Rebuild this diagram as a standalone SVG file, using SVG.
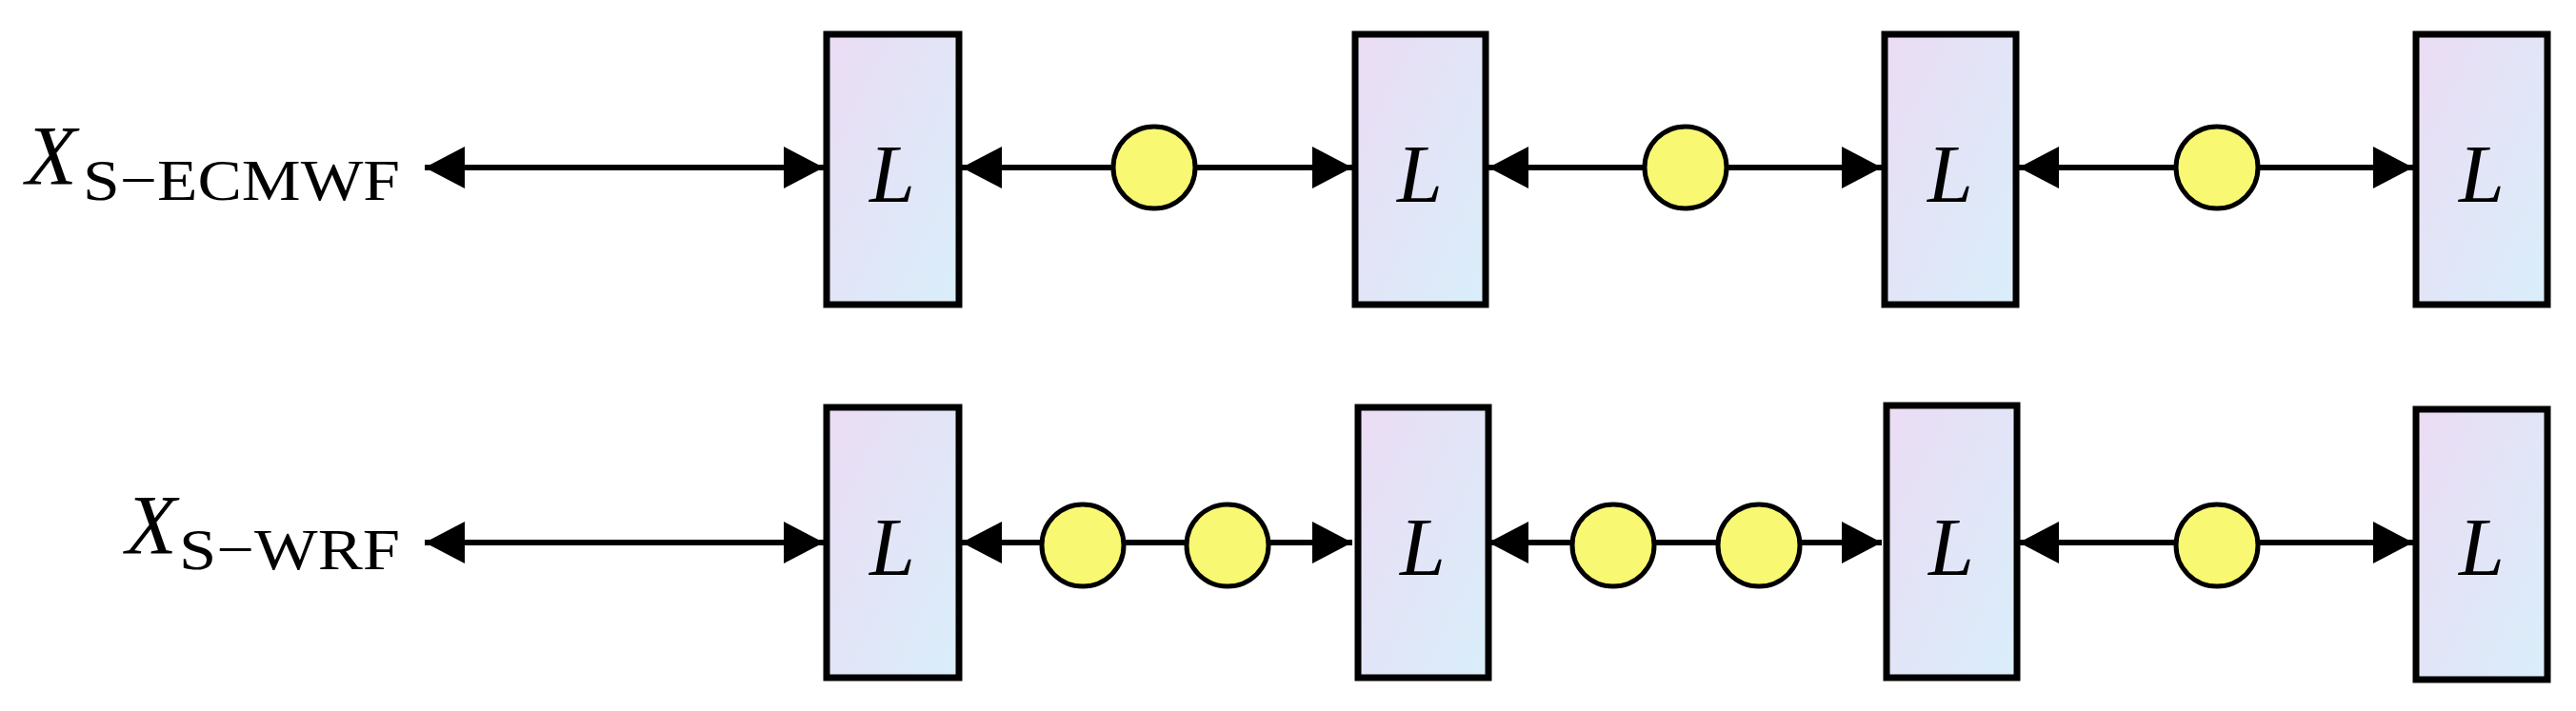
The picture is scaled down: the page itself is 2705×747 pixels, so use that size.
<svg xmlns="http://www.w3.org/2000/svg" width="2705" height="747" viewBox="0 0 2705 747">
<style>
.box{stroke:#000;stroke-width:7;fill:url(#g)}
.c{fill:#f8f872;stroke:#000;stroke-width:5}
.ln{stroke:#000;stroke-width:6;fill:none;marker-start:url(#a);marker-end:url(#a)}
.L{font-family:"Liberation Serif",serif;font-style:italic;font-size:86px;text-anchor:middle}
.X{font-family:"Liberation Serif",serif;font-style:italic;font-size:88px}
.s{font-family:"Liberation Serif",serif;font-size:62px}
</style>
<defs>
<linearGradient id="g" x1="0" y1="0" x2="1" y2="1"><stop offset="0" stop-color="#ebdcf4"/><stop offset="1" stop-color="#d9eefa"/></linearGradient>
<marker id="a" markerUnits="userSpaceOnUse" viewBox="0 0 42 44" refX="42" refY="22" markerWidth="42" markerHeight="44" orient="auto-start-reverse"><path d="M0,0L42,22L0,44Z" fill="#000"/></marker>
</defs>
<g id="labels">
<text class="X" x="27" y="193">X</text><text class="s" x="87" y="210" textLength="333" lengthAdjust="spacingAndGlyphs">S−ECMWF</text>
<text class="X" x="132" y="581">X</text><text class="s" x="188" y="598" textLength="232" lengthAdjust="spacingAndGlyphs">S−WRF</text>
</g>
<g id="connectors">
<line class="ln" x1="446" y1="176" x2="865" y2="176"/>
<line class="ln" x1="1010" y1="176" x2="1420" y2="176"/>
<line class="ln" x1="1563" y1="176" x2="1976" y2="176"/>
<line class="ln" x1="2120" y1="176" x2="2534" y2="176"/>
<line class="ln" x1="446" y1="570" x2="865" y2="570"/>
<line class="ln" x1="1010" y1="570" x2="1420" y2="570"/>
<line class="ln" x1="1563" y1="570" x2="1976" y2="570"/>
<line class="ln" x1="2120" y1="570" x2="2534" y2="570"/>
</g>
<g id="r1b1"><rect class="box" x="868" y="36" width="139" height="284"/><text class="L" x="937" y="212">L</text></g>
<g id="r1b2"><rect class="box" x="1423" y="36" width="137" height="284"/><text class="L" x="1491" y="212">L</text></g>
<g id="r1b3"><rect class="box" x="1979" y="36" width="138" height="284"/><text class="L" x="2048" y="212">L</text></g>
<g id="r1b4"><rect class="box" x="2537" y="36" width="138" height="284"/><text class="L" x="2606" y="212">L</text></g>
<g id="r2b1"><rect class="box" x="868" y="428" width="139" height="284"/><text class="L" x="937" y="604">L</text></g>
<g id="r2b2"><rect class="box" x="1426" y="428" width="137" height="284"/><text class="L" x="1494" y="604">L</text></g>
<g id="r2b3"><rect class="box" x="1981" y="426" width="137" height="286"/><text class="L" x="2049" y="604">L</text></g>
<g id="r2b4"><rect class="box" x="2537" y="430" width="138" height="284"/><text class="L" x="2606" y="604">L</text></g>
<g id="r1c1"><circle class="c" cx="1212" cy="176" r="43"/></g>
<g id="r1c2"><circle class="c" cx="1770" cy="176" r="43"/></g>
<g id="r1c3"><circle class="c" cx="2328" cy="176" r="43"/></g>
<g id="r2c1"><circle class="c" cx="1137" cy="573" r="43"/></g>
<g id="r2c2"><circle class="c" cx="1289" cy="573" r="43"/></g>
<g id="r2c3"><circle class="c" cx="1694" cy="573" r="43"/></g>
<g id="r2c4"><circle class="c" cx="1847" cy="573" r="43"/></g>
<g id="r2c5"><circle class="c" cx="2328" cy="573" r="43"/></g>
</svg>
